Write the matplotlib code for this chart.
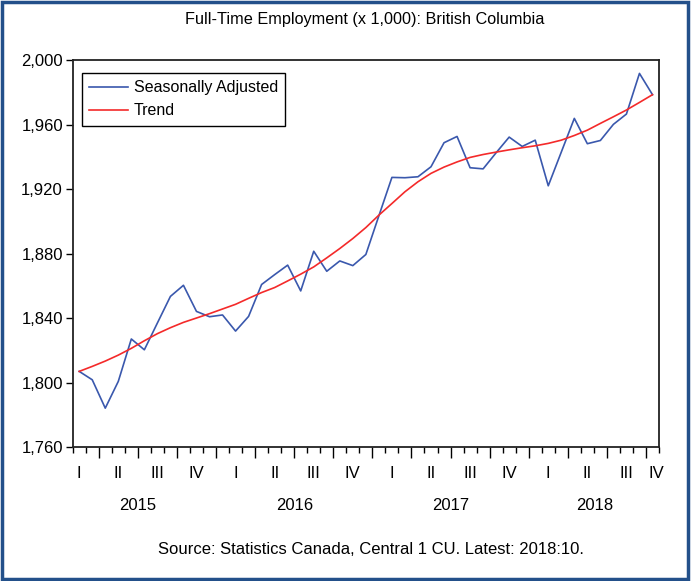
import matplotlib
matplotlib.use('Agg')
import matplotlib.pyplot as plt
import matplotlib.transforms as mtransforms
from matplotlib.patches import Rectangle
import numpy as np

plt.rcParams['font.family'] = ['Liberation Sans Narrow', 'Liberation Sans', 'DejaVu Sans']

# monthly data, Feb 2015 .. Oct 2018
seasonally_adjusted = [
    1806.9, 1801.7, 1784.1, 1800.7, 1827.0, 1820.3, 1836.9, 1853.4, 1860.3, 1844.1, 1840.8,
    1841.9, 1831.9, 1841.0, 1860.8, 1866.9, 1872.8, 1856.8, 1881.4, 1869.0, 1875.4, 1872.5,
    1879.4, 1903.4, 1927.2, 1927.0, 1927.6, 1933.8, 1948.7, 1952.6, 1933.2, 1932.5, 1942.5,
    1952.2, 1946.4, 1950.3, 1922.0, 1942.9, 1963.8, 1948.1, 1950.1, 1960.1, 1966.5, 1991.7,
    1978.5,
]
trend = [
    1806.9, 1810.0, 1813.3, 1817.0, 1821.2, 1825.9, 1830.3, 1834.0, 1837.3, 1840.0, 1842.7,
    1845.6, 1848.5, 1852.2, 1855.8, 1858.9, 1863.0, 1867.2, 1871.7, 1877.3, 1883.1, 1889.3,
    1896.1, 1903.8, 1911.0, 1918.3, 1924.5, 1929.7, 1933.6, 1936.8, 1939.6, 1941.4, 1942.9,
    1944.3, 1945.6, 1946.8, 1948.3, 1950.3, 1953.2, 1956.5, 1960.7, 1964.8, 1969.0, 1973.7,
    1978.5,
]
quarter_labels = ['I', 'II', 'III', 'IV'] * 4
quarter_pos = [0, 3, 6, 9, 12, 15, 18, 21, 24, 27, 30, 33, 36, 39, 42, 44.3]
years = ['2015', '2016', '2017', '2018']
year_pos = [4.5, 16.5, 28.5, 39.6]

x = np.arange(len(seasonally_adjusted))

fig = plt.figure(figsize=(6.91, 5.81), dpi=100)
ax = fig.add_axes([0.1052, 0.2306, 0.8485, 0.6661])

ax.plot(x, seasonally_adjusted, color='#3a58ad', lw=1.2, label='Seasonally Adjusted')
ax.plot(x, trend, color='#f42a2a', lw=1.2, label='Trend')

ax.set_xlim(-0.5, len(x) - 0.5)
ax.set_ylim(1760, 2000)
ax.set_yticks(np.arange(1760, 2001, 40))
ax.set_yticklabels([f'{v:,}' for v in range(1760, 2001, 40)], fontsize=12)
ax.tick_params(axis='y', direction='out', length=5, width=1, pad=2)

ax.set_xticks(np.arange(1.5, len(x), 3))
ax.set_xticklabels([])
ax.set_xticks(np.arange(-0.5, len(x), 1), minor=True)
ax.tick_params(axis='x', which='major', direction='out', length=8, width=1)
ax.tick_params(axis='x', which='minor', direction='out', length=4, width=1)

for s in ax.spines.values():
    s.set_linewidth(1.3)
    s.set_color('#222222')

trans = mtransforms.blended_transform_factory(ax.transData, ax.transAxes)
for lab, p in zip(quarter_labels, quarter_pos):
    ax.text(p, -0.068, lab, transform=trans, ha='center', va='center', fontsize=12)
for lab, p in zip(years, year_pos):
    ax.text(p, -0.152, lab, transform=trans, ha='center', va='center', fontsize=12)

ax.legend(loc='upper left', bbox_to_anchor=(0.016, 0.966), borderaxespad=0,
          fancybox=False, edgecolor='black', framealpha=1, fontsize=11.5,
          handlelength=2.4, handletextpad=0.4, labelspacing=0.5, borderpad=0.45)

fig.text(0.528, 0.9656, 'Full-Time Employment (x 1,000): British Columbia',
         ha='center', va='center', fontsize=11.7)
fig.text(0.537, 0.0534, 'Source: Statistics Canada, Central 1 CU. Latest: 2018:10.',
         ha='center', va='center', fontsize=12)

fig.patches.append(Rectangle((0.003, 0.004), 0.993, 0.992, transform=fig.transFigure,
                             fill=False, edgecolor='#23508a', lw=2.5))

fig.savefig('out.png', dpi=100)
